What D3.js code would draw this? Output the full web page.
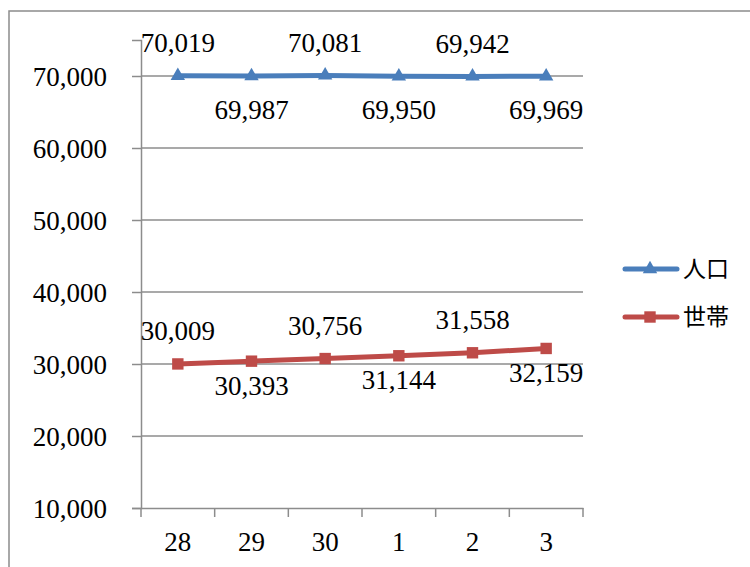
<!DOCTYPE html>
<html>
<head>
<meta charset="utf-8">
<script src="https://cdn.jsdelivr.net/npm/d3@7"></script>
<style>
  body { margin: 0; background: #fff; }
  svg { display: block; }
  .num { font-family: "Liberation Serif", serif; font-size: 27px; fill: #000; }
  .jp { font-family: "Noto Sans CJK JP", sans-serif; font-size: 23px; fill: #000; }
</style>
</head>
<body>
<svg id="chart" width="750" height="567"></svg>
<script>
// chart data
var categories = ["28", "29", "30", "1", "2", "3"];
var population = [70019, 69987, 70081, 69950, 69942, 69969];
var households = [30009, 30393, 30756, 31144, 31558, 32159];
var seriesNames = ["人口", "世帯"];
var yTicks = [10000, 20000, 30000, 40000, 50000, 60000, 70000];
// label above (-1) or below (+1) the point
var labelSide = [-1, 1, -1, 1, -1, 1];

var svg = d3.select("#chart");

var plotLeft = 141, plotRight = 583, plotTop = 40, plotBottom = 508;
var blue = "#4a7ebb", red = "#be4b48", grey = "#8c8c8c";

// outer frame
svg.append("rect")
  .attr("x", 9).attr("y", 11)
  .attr("width", 800).attr("height", 600)
  .attr("fill", "none")
  .attr("stroke", grey)
  .attr("stroke-width", 1.5);

var x = d3.scaleBand()
  .domain(categories)
  .range([plotLeft, plotRight]);

var y = d3.scaleLinear()
  .domain([10000, 75000])
  .range([plotBottom, plotTop]);

var fmt = d3.format(",");

// gridlines
svg.append("g")
  .selectAll("line")
  .data(yTicks.slice(1))
  .enter().append("line")
  .attr("x1", plotLeft).attr("x2", plotRight)
  .attr("y1", function(d) { return y(d); })
  .attr("y2", function(d) { return y(d); })
  .attr("stroke", grey)
  .attr("stroke-width", 1.5);

// y axis
var yAxis = svg.append("g")
  .attr("transform", "translate(" + plotLeft + ",0)")
  .call(d3.axisLeft(y).tickValues(yTicks).tickFormat(fmt).tickSize(9).tickPadding(25));
yAxis.attr("font-family", null).attr("font-size", null);
yAxis.select(".domain").attr("stroke", grey).attr("stroke-width", 1.5);
yAxis.selectAll(".tick line").attr("stroke", grey).attr("stroke-width", 1.5);
yAxis.selectAll(".tick text").attr("class", "num").attr("fill", null).attr("dy", "0.35em");

// x axis
var xAxis = svg.append("g")
  .attr("transform", "translate(0," + plotBottom + ")")
  .call(d3.axisBottom(x).tickSize(0).tickPadding(24));
xAxis.attr("font-family", null).attr("font-size", null);
xAxis.select(".domain").attr("stroke", grey).attr("stroke-width", 1.5);
xAxis.selectAll(".tick text").attr("class", "num").attr("fill", null);

// category boundary ticks
xAxis.selectAll(".sep")
  .data(d3.range(categories.length + 1))
  .enter().append("line")
  .attr("x1", function(i) { return plotLeft + i * x.bandwidth(); })
  .attr("x2", function(i) { return plotLeft + i * x.bandwidth(); })
  .attr("y1", 0).attr("y2", 9)
  .attr("stroke", grey)
  .attr("stroke-width", 1.5);

var cx = function(d, i) { return x(categories[i]) + x.bandwidth() / 2; };

var line = d3.line()
  .x(function(d, i) { return cx(d, i); })
  .y(function(d) { return y(d); });

function drawSeries(values, color, symbol, size, belowOffset) {
  svg.append("path")
    .datum(values)
    .attr("fill", "none")
    .attr("stroke", color)
    .attr("stroke-width", 5)
    .attr("stroke-linejoin", "round")
    .attr("d", line);

  svg.append("g")
    .selectAll("path")
    .data(values)
    .enter().append("path")
    .attr("d", d3.symbol().type(symbol).size(size))
    .attr("transform", function(d, i) { return "translate(" + cx(d, i) + "," + y(d) + ")"; })
    .attr("fill", color);

  svg.append("g")
    .selectAll("text")
    .data(values)
    .enter().append("text")
    .attr("class", "num")
    .attr("text-anchor", "middle")
    .attr("dy", "0.35em")
    .attr("x", function(d, i) { return cx(d, i); })
    .attr("y", function(d, i) { return y(d) + (labelSide[i] < 0 ? -33 : belowOffset); })
    .text(function(d) { return fmt(d); });
}

drawSeries(population, blue, d3.symbolTriangle, 90, 33);
drawSeries(households, red, d3.symbolSquare, 130, 24);

// legend
var legend = svg.append("g");
[[blue, d3.symbolTriangle, 90], [red, d3.symbolSquare, 130]].forEach(function(s, i) {
  var ly = 269 + i * 48;
  legend.append("line")
    .attr("x1", 625).attr("x2", 677)
    .attr("y1", ly).attr("y2", ly)
    .attr("stroke", s[0])
    .attr("stroke-width", 5)
    .attr("stroke-linecap", "round");
  legend.append("path")
    .attr("d", d3.symbol().type(s[1]).size(s[2]))
    .attr("transform", "translate(650," + ly + ")")
    .attr("fill", s[0]);
  legend.append("text")
    .attr("class", "jp")
    .attr("x", 683).attr("y", ly)
    .attr("dy", "0.35em")
    .text(seriesNames[i]);
});
</script>
</body>
</html>
